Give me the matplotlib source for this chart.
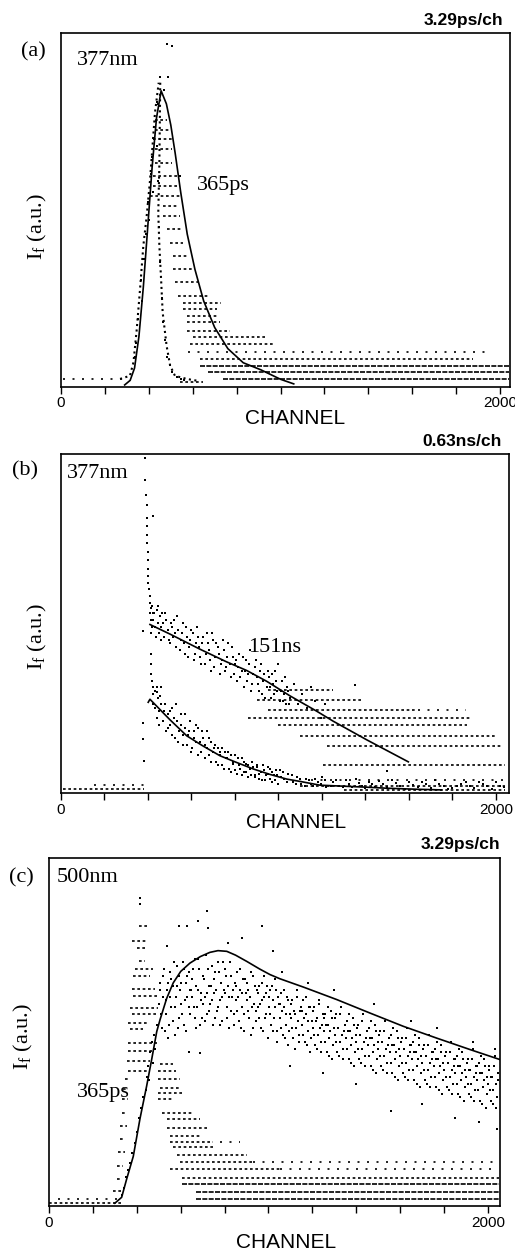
"""Fluorescence decay curves: three stacked panels (a), (b), (c)."""

import matplotlib

matplotlib.use("Agg")
import matplotlib.pyplot as plt  # noqa: E402

plt.rcParams["font.family"] = "Liberation Serif"
plt.rcParams["mathtext.fontset"] = "custom"
plt.rcParams["mathtext.rm"] = "Liberation Serif"
plt.rcParams["mathtext.it"] = "Liberation Serif:italic"

W, H = 515, 1251
SANS = "Liberation Sans"

# ---------------- panel (a): 377 nm, 3.29 ps/ch ----------------
fit_a_x = [290, 315, 335, 355, 375, 395, 415, 435, 456, 480, 500, 520, 545, 575,
           610, 650, 700, 760, 830, 910, 1000, 1060]
fit_a_y = [0.2, 1.5, 5, 14, 28, 45, 62, 76, 83.7, 80, 74, 66, 55, 43,
           33, 24, 16.5, 10.5, 6.5, 4.5, 1.8, 0.5]

irf_a_left_x = [269, 314, 330, 345, 360, 375, 390, 405, 428, 445]
irf_a_left_y = [1.9, 2.8, 6.6, 16, 27.4, 39.7, 48, 58, 77.5, 86]
irf_a_right_x = [452, 448, 443, 448, 456, 463, 481, 497, 519, 573, 620]
irf_a_right_y = [86, 63, 49, 39.7, 30, 20.8, 11.3, 5.7, 2.8, 1.9, 1.4]

pts_a = [(483, 97), (505, 96.5), (451, 87.5), (488, 87.5), (542, 59.5), (436, 80.5),
         (470, 84), (335, 8), (342, 12), (352, 19), (365, 30), (368, 24), (380, 36),
         (385, 43), (395, 52), (400, 47), (410, 60), (415, 65), (420, 55), (425, 70),
         (432, 75), (438, 68), (444, 80), (440, 58), (446, 45), (452, 35), (458, 25),
         (466, 18), (472, 13), (485, 8), (495, 6), (505, 4), (530, 2.5), (545, 2),
         (560, 1.5)]

rows_a_y = [75.5, 72.7, 69.9, 67.1, 63.3, 59.5, 56.7, 53.8, 51.0, 48.2, 44.4, 40.6,
            36.8, 33.0, 29.3, 25.5, 23.4, 21.7, 19.8, 18.0, 15.6, 13.7, 11.8, 9.6,
            7.6, 5.7, 3.8, 1.9, 1.9, 1.1]
rows_a_x0 = [428, 428, 421, 428, 428, 421, 421, 406, 466, 466, 482, 497,
             512, 512, 519, 535, 557, 557, 572, 572, 572, 602, 587, 580,
             633, 633, 670, 740, 10, 542]
rows_a_x1 = [482, 497, 504, 504, 504, 535, 527, 542, 535, 542, 550, 557,
             573, 595, 633, 680, 730, 709, 715, 724, 770, 937, 967, 1950,
             1878, 2040, 2040, 2040, 300, 648]
rows_a_kind = ["m"] * 23 + ["s", "m", "d", "d", "d", "s", "m"]

# ---------------- panel (b): 377 nm, 0.63 ns/ch ----------------
fit_b1_x = [409, 500, 639, 760, 854, 946, 1053, 1175, 1252, 1406, 1500, 1597]
fit_b1_y = [49.6, 46.8, 42.3, 38.6, 36, 32.8, 28.5, 24, 21, 15.5, 12.3, 9]

fit_b2_x = [401, 409, 500, 578, 650, 731, 800, 884, 960, 1038, 1100, 1191,
            1300, 1406, 1500, 1635, 1750]
fit_b2_y = [26.6, 27.5, 21.5, 16.7, 13.8, 10.8, 9.0, 6.9, 5.3, 3.9, 3.2, 2.1,
            1.8, 1.5, 1.2, 0.9, 0.7]

spike_b_x = [386, 386, 390, 394, 397, 397, 397, 397, 398, 398, 399, 400, 402, 404,
             407, 409, 416, 424, 424, 378, 378, 378, 380, 414, 412, 414, 418, 425,
             440, 455]
spike_b_y = [98.8, 92.4, 88, 85, 81, 78.6, 76, 73.7, 71, 68.8, 66, 63.9, 62, 60,
             58, 56, 54.5, 53.1, 81.6, 47.7, 20.6, 15.7, 9.3, 41, 38, 35, 33, 31,
             29.5, 28.5]

up_b_x = [410, 415, 420, 425, 430, 440, 445, 450, 455, 460, 470, 480, 490, 500,
          505, 515, 520, 530, 540, 550, 560, 570, 580, 590, 600, 610, 620, 630,
          640, 650, 660, 670, 680, 690, 700, 710, 720, 730, 740, 750, 760, 770,
          780, 790, 800, 810, 820, 830, 840, 850, 860, 870, 880, 890, 900, 910,
          920, 930, 940, 950, 960, 970, 980, 990, 1000, 1010, 1020, 1030, 1040,
          1050, 1352, 1497]
up_b_y = [53, 47, 55, 51, 49, 54, 50, 47, 52, 45, 50, 53, 48, 44,
          50, 46, 51, 43, 48, 45, 50, 41, 46, 43, 48, 39, 44, 46,
          40, 44, 38, 47, 42, 36, 45, 40, 43, 35, 39, 42, 37, 44,
          34, 40, 38, 33, 41, 36, 31, 39, 35, 42, 32, 37, 34, 30,
          38, 33, 28, 36, 31, 35, 29, 33, 38, 30, 27, 34, 31,
          26, 31.7, 6.4]
up_b2 = [(412, 51), (418, 49), (428, 53), (435, 46), (448, 55), (458, 49), (465, 53),
         (475, 46), (485, 51), (495, 45), (510, 49), (525, 47), (535, 52), (545, 42),
         (555, 47), (565, 44), (575, 49), (585, 40), (595, 45), (605, 47), (615, 41),
         (625, 49), (635, 43), (645, 38), (655, 46), (665, 41), (675, 44), (685, 39),
         (695, 47), (705, 37), (715, 44), (725, 41), (735, 38), (745, 45), (755, 36),
         (765, 40), (775, 38), (785, 43), (795, 35), (805, 39), (815, 37), (825, 34),
         (835, 40), (845, 36), (855, 33), (865, 38), (875, 30), (885, 35), (895, 39),
         (905, 32), (915, 36), (925, 29), (935, 35), (945, 31), (955, 34), (965, 28),
         (975, 32), (985, 36), (995, 30), (1005, 27), (1015, 33), (1025, 29),
         (1035, 26), (1045, 30), (1055, 28), (1070, 32), (1090, 26), (1110, 29),
         (1130, 25), (1150, 31), (1170, 27), (1195, 22), (1215, 26)]

lo_b_x = [420, 425, 430, 440, 445, 450, 460, 470, 480, 490, 500, 510, 520, 530,
          540, 550, 560, 570, 580, 590, 600, 610, 620, 630, 640, 650, 660, 670,
          680, 690, 700, 710, 720, 730, 740, 750, 760, 770, 780, 790, 800, 810,
          820, 830, 840, 850, 860, 870, 880, 890, 900, 910, 920, 930, 940, 950,
          960, 970, 980, 990, 1000, 1010, 1020, 1040, 1060, 1080, 1100, 1120,
          1140, 1160, 1180, 1200, 1220, 1250, 1280, 1310, 1340, 1370, 1400, 1430,
          1460, 1500, 1540, 1580, 1620, 1660, 1700, 1740, 1780, 1820, 1860, 1900,
          1940, 1980, 2020]
lo_b_y = [33, 26, 30, 22, 28, 24, 31, 21, 26, 19, 24, 17, 22, 26,
          15, 20, 17, 23, 14, 18, 12, 16, 20, 11, 15, 18, 10, 13,
          16, 9, 12, 14, 8, 11, 13, 7, 10, 12, 6, 9, 11, 5.5,
          8, 10, 6, 8.5, 4.5, 7, 9, 5, 7.5, 4, 6, 8, 3.5, 5.5,
          7, 3, 5, 6.5, 2.5, 4.5, 6, 3, 5, 2.5, 4, 2,
          3.5, 1.8, 3, 4.5, 1.5, 3, 2, 3.5, 1.5, 2.8, 1.2, 2.5,
          3.2, 1.5, 2.8, 1, 2.2, 3, 1.3, 2.5, 1, 2, 3, 1.2,
          2.4, 1, 2]
lo_b2 = [(422, 29), (432, 25), (442, 31), (452, 20), (462, 26), (472, 24), (482, 18),
         (492, 23), (502, 20), (512, 25), (522, 16), (532, 21), (542, 18), (552, 23),
         (562, 14), (572, 19), (582, 17), (592, 21), (602, 13), (612, 18), (622, 15),
         (632, 19), (642, 12), (652, 16), (662, 14), (672, 18), (682, 11), (692, 15),
         (702, 13), (712, 9), (722, 13), (732, 12), (742, 8), (752, 12), (762, 10),
         (772, 7), (782, 11), (792, 8.5), (802, 6.5), (812, 10), (822, 7), (832, 5),
         (842, 9), (852, 6), (862, 8), (872, 5), (882, 7.5), (892, 4.5), (902, 8),
         (912, 5.5), (922, 3.5), (932, 6.5), (942, 5), (952, 7.5), (962, 4), (972, 6),
         (982, 3.5), (992, 5), (1005, 6.5), (1025, 4), (1045, 5.5), (1065, 3),
         (1085, 4.5), (1105, 2.5), (1125, 4), (1150, 2.5), (1170, 4), (1195, 2.5),
         (1215, 3.5), (1240, 2), (1265, 3.5), (1295, 1.5), (1325, 2.5), (1355, 4),
         (1385, 2), (1415, 3), (1445, 1.5), (1480, 2.5), (1520, 3.5), (1560, 2),
         (1600, 3), (1640, 1.5), (1680, 2.5), (1720, 3.5), (1760, 2), (1800, 1.2),
         (1840, 2.5), (1880, 1.8), (1920, 3), (1960, 2), (2000, 3), (2035, 1.5)]

rows_b_y = [30.3, 27.2, 24.3, 24.3, 22.1, 19.9, 16.7, 13.6, 8.1, 3.5, 2.0, 0.8, 1.0, 2.2]
rows_b_x0 = [950, 900, 950, 1640, 860, 1000, 1099, 1222, 1206, 1150, 1100, 1300, 10, 150]
rows_b_x1 = [1252, 1390, 1636, 1860, 1881, 1866, 2002, 2032, 2040, 2040, 2040, 2040, 380, 385]
rows_b_kind = ["m", "m", "m", "s", "m", "m", "m", "m", "m", "s", "m", "m", "m", "s"]

# ---------------- panel (c): 500 nm, 3.29 ps/ch ----------------
fit_c_x = [300, 331, 354, 384, 415, 445, 468, 491, 506, 536, 566, 600, 642, 690,
           733, 770, 810, 850, 901, 960, 1007, 1052, 1159, 1311, 1463, 1614,
           1766, 1918, 2055]
fit_c_y = [0.5, 2.2, 7.5, 14, 25, 34.3, 42, 50, 53.4, 59.5, 64, 67.3, 69.7, 71.6,
           72.8, 73.3, 73.1, 72, 70.2, 68, 66.4, 65.2, 62.8, 59.2, 55.3, 51.5,
           48.1, 44.8, 41.9]

rise_c_x = [331, 340, 350, 360, 370, 380, 390, 400, 410, 420, 430, 440, 445, 450,
            455, 460, 470, 475, 480, 485, 490, 415, 415]
rise_c_y = [3, 5, 8, 10, 12, 15, 18, 21, 25, 28, 31, 33, 37, 40,
            36, 44, 47, 41, 49, 45, 52, 88.5, 86.6]

cloud_c_x = [
    505, 512, 520, 527, 534, 541, 546, 553, 558, 566, 572, 579, 585, 592, 597,
    603, 610, 616, 623, 630, 637, 643, 648, 652, 659, 665, 672, 678, 684, 691, 697,
    703, 709, 716, 722, 728, 735, 741, 747, 752, 758, 765, 771, 777, 784, 790, 796,
    803, 809, 815, 822, 828, 834, 841, 847, 852, 858, 865, 871, 878, 884, 890, 897,
    903, 909, 916, 922, 928, 935, 941, 947, 952, 958, 965, 971, 978, 984, 990, 996,
    1003, 1009, 1016, 1022, 1028, 1035, 1041, 1047, 1052, 1058, 1065, 1071, 1078,
    1084, 1090, 1097, 1103, 1109, 1116, 1122, 1128, 1135, 1141, 1147, 1152, 1158,
    1165, 1171, 1178, 1184, 1190, 1197, 1203, 1209, 1216, 1222, 1228, 1235, 1241,
    1247, 1252, 1258, 1265, 1271, 1278, 1284, 1290, 1297, 1303, 1309, 1316, 1322,
    1328, 1335, 1341, 1347, 1352, 1358, 1365, 1371, 1378, 1384, 1390, 1397, 1403,
    1409, 1416, 1422, 1428, 1435, 1441, 1447, 1452, 1458, 1465, 1471, 1478, 1484,
    1490, 1497, 1503, 1509, 1516, 1522, 1528, 1535, 1541, 1547, 1552, 1558, 1565,
    1571, 1578, 1584, 1590, 1597, 1603, 1609, 1616, 1622, 1628, 1635, 1641, 1647,
    1652, 1658, 1665, 1671, 1678, 1684, 1690, 1697, 1703, 1709, 1716, 1722, 1728,
    1735, 1741, 1747, 1752, 1758, 1765, 1771, 1778, 1784, 1790, 1797, 1803, 1809,
    1816, 1822, 1828, 1835, 1841, 1847, 1852, 1858, 1865, 1871, 1878, 1884, 1890,
    1897, 1903, 1909, 1916, 1922, 1928, 1935, 1941, 1947, 1952, 1958, 1965, 1971,
    1978, 1984, 1990, 1997, 2003, 2009, 2016, 2022, 2028, 2035, 2041, 2047,
    594, 678, 718, 725, 627, 817, 880, 969, 1022, 536, 640, 688, 1560, 1700, 1850,
    1960, 2040, 1400, 1100, 1250, 1300, 1480, 1650, 1770, 1930, 2030, 1180, 1060]
cloud_c_y = [
    62, 55, 66, 50, 59, 64, 52, 67, 57, 63, 49, 60, 69, 54, 62,
    58, 70, 52, 64, 60, 67, 55, 62, 65, 57, 71, 51, 62, 68, 59, 54,
    66, 60, 72, 55, 63, 58, 69, 52, 61, 67, 56, 70, 59, 64, 53, 62,
    68, 57, 63, 51, 66, 60, 55, 64, 59, 67, 53, 62, 57, 65, 50, 61,
    64, 56, 60, 49, 66, 58, 53, 62, 57, 63, 51, 59, 66, 54, 61, 48,
    60, 55, 63, 50, 57, 62, 47, 58, 54, 61, 49, 57, 52,
    60, 46, 55, 58, 51, 56, 45, 60, 53, 49, 57, 52, 59,
    47, 55, 50, 57, 44, 53, 56, 49, 53, 45, 58, 51, 47,
    55, 50, 55, 44, 52, 48, 56, 42, 51, 54, 47, 51, 43,
    55, 49, 45, 52, 48, 53, 42, 50, 46, 54, 40, 49, 51,
    45, 49, 41, 53, 47, 43, 50, 46, 51, 40, 48, 44, 52,
    38, 47, 49, 43, 47, 39, 50, 45, 41, 48, 44, 49, 38,
    46, 42, 50, 36, 45, 47, 41, 45, 37, 48, 43, 39, 46,
    42, 47, 36, 44, 40, 48, 34, 43, 45, 39, 43, 35, 46,
    41, 37, 44, 40, 45, 34, 42, 38, 46, 32, 41, 43, 37,
    41, 33, 44, 39, 35, 42, 38, 43, 32, 40, 36, 44, 30,
    39, 41, 35, 39, 31, 42, 37, 33, 40, 36, 41, 30, 38,
    34, 42, 28, 37, 39, 33, 37, 29, 40, 35, 31, 38,
    80.4, 81.7, 84.6, 79.8, 80.3, 75.6, 77, 80.5, 73.2, 74.7, 44, 43.9, 27, 29, 25,
    24, 22, 35, 40, 38, 62, 58, 53, 51, 47, 45, 64, 67]
cloud_c2 = [
    (501, 58), (507, 64), (513, 51), (519, 60), (525, 68), (531, 55), (538, 62), (544, 48),
    (551, 60), (557, 65), (563, 53), (569, 70), (575, 57), (581, 63), (588, 51), (594, 66),
    (601, 64), (607, 55), (613, 68), (619, 59), (625, 50), (631, 66), (638, 57), (644, 62),
    (651, 60), (657, 68), (663, 54), (669, 63), (675, 57), (681, 71), (688, 52), (694, 61),
    (701, 58), (707, 65), (713, 53), (719, 61), (725, 68), (731, 56), (738, 63), (744, 59),
    (751, 65), (757, 54), (763, 62), (769, 57), (775, 67), (781, 52), (788, 60), (794, 70),
    (801, 61), (807, 66), (813, 54), (819, 60), (825, 70), (831, 56), (838, 62), (844, 52),
    (851, 63), (857, 56), (863, 60), (869, 68), (875, 51), (881, 61), (888, 55), (894, 65),
    (901, 59), (907, 62), (913, 54), (919, 67), (925, 57), (931, 51), (938, 63), (944, 56),
    (951, 61), (957, 54), (963, 58), (969, 64), (975, 50), (981, 60), (988, 55), (994, 63),
    (1001, 57), (1007, 62), (1013, 52), (1019, 59), (1025, 54), (1031, 65), (1038, 50),
    (1044, 60), (1051, 58), (1057, 51), (1063, 56), (1069, 62), (1075, 48), (1081, 55),
    (1088, 59), (1094, 50), (1101, 54), (1107, 59), (1113, 48), (1119, 55), (1125, 51),
    (1131, 62), (1138, 47), (1144, 56), (1151, 56), (1157, 49), (1163, 54), (1169, 60),
    (1175, 46), (1181, 53), (1188, 57), (1194, 48), (1201, 51), (1207, 57), (1213, 46),
    (1219, 54), (1225, 49), (1231, 59), (1238, 44), (1244, 52), (1251, 54), (1257, 47),
    (1263, 52), (1269, 57), (1275, 43), (1281, 50), (1288, 54), (1294, 46), (1301, 49),
    (1307, 55), (1313, 44), (1319, 51), (1325, 47), (1331, 57), (1338, 42), (1344, 50),
    (1351, 52), (1357, 45), (1363, 50), (1369, 55), (1375, 41), (1381, 48), (1388, 52),
    (1394, 44), (1401, 47), (1407, 52), (1413, 42), (1419, 49), (1425, 45), (1431, 55),
    (1438, 40), (1444, 48), (1451, 50), (1457, 43), (1463, 48), (1469, 53), (1475, 39),
    (1481, 46), (1488, 50), (1494, 42), (1501, 45), (1507, 50), (1513, 40), (1519, 47),
    (1525, 43), (1531, 53), (1538, 38), (1544, 46), (1551, 48), (1557, 41), (1563, 46),
    (1569, 51), (1575, 37), (1581, 44), (1588, 48), (1594, 40), (1601, 43), (1607, 48),
    (1613, 38), (1619, 45), (1625, 41), (1631, 51), (1638, 36), (1644, 44), (1651, 46),
    (1657, 39), (1663, 44), (1669, 49), (1675, 35), (1681, 42), (1688, 46), (1694, 38),
    (1701, 41), (1707, 46), (1713, 36), (1719, 43), (1725, 39), (1731, 49), (1738, 34),
    (1744, 42), (1751, 44), (1757, 37), (1763, 42), (1769, 47), (1775, 33), (1781, 40),
    (1788, 44), (1794, 36), (1801, 39), (1807, 44), (1813, 34), (1819, 41), (1825, 37),
    (1831, 47), (1838, 32), (1844, 40), (1851, 42), (1857, 35), (1863, 40), (1869, 45),
    (1875, 31), (1881, 38), (1888, 42), (1894, 34), (1901, 37), (1907, 42), (1913, 32),
    (1919, 39), (1925, 35), (1931, 45), (1938, 30), (1944, 38), (1951, 40), (1957, 33),
    (1963, 38), (1969, 43), (1975, 29), (1981, 36), (1988, 40), (1994, 32), (2001, 35),
    (2007, 40), (2013, 30), (2019, 37), (2025, 33), (2031, 43), (2038, 28), (2044, 36)]

rows_c_y = [80.3, 76.1, 74.0, 70.2, 68.0, 65.9, 62.1, 60.1, 56.8, 54.9, 52.5, 50.6,
            46.7, 44.3, 41.5, 38.6, 36.2, 33.3, 30.5, 26.6, 22.8, 19.0, 15.2, 11.3,
            7.5, 4.1,
            40.5, 38.6, 36.2, 33.8, 32.4, 30.5, 26.6, 24.7, 22.3, 19.9, 18.1, 18.1,
            16.6, 14.4, 12.4, 12.4, 10.3, 10.3, 7.9, 6.0, 3.8, 1.7, 0.6, 1.6]
rows_c_x0 = [408, 377, 400, 408, 392, 384, 377, 384, 369, 377, 361, 369,
             361, 361, 354, 361, 346, 339, 331, 331, 323, 323, 316, 308,
             308, 293,
             506, 498, 498, 506, 498, 498, 514, 536, 536, 551, 551, 780,
             567, 583, 597, 931, 551, 1052, 605, 605, 672, 672, 0, 40]
rows_c_x1 = [445, 445, 445, 438, 475, 460, 483, 498, 498, 490, 445, 430,
             490, 468, 460, 445, 361, 354, 361, 354, 354, 346, 346, 339,
             331, 339,
             567, 580, 597, 597, 612, 567, 658, 688, 719, 688, 749, 870,
             749, 900, 931, 2040, 1052, 2025, 2050, 2050, 2050, 2050, 330, 320]
rows_c_kind = ["m"] * 26 + ["m"] * 11 + ["s", "m", "m", "m", "s", "m", "s",
                                         "m", "d", "d", "d", "m", "s"]

DASH = {"d": (0, (3.0, 0.8)), "m": (0, (1.6, 1.6)), "s": (0, (1.2, 4.5))}


def fx(px):
    return px / W


def fy(py):
    return 1 - py / H


def draw_rows(ax, levels, x0, x1, kinds):
    for y, a, b, k in zip(levels, x0, x1, kinds):
        ax.hlines(y, a, b, colors="k", linewidth=1.2, linestyles=[DASH[k]])


def style_axes(ax, xmax):
    ax.set_xlim(0, xmax)
    ax.set_ylim(-0.3, 100)
    ax.set_yticks([])
    ax.set_xticks(range(0, 2001, 200))
    ax.set_xticklabels(["0"] + [""] * 9 + ["2000"], family=SANS, fontsize=11)
    ax.tick_params(axis="x", direction="out", length=5, width=1, pad=2)
    for s in ax.spines.values():
        s.set_linewidth(1.2)


def dots(ax, x, y):
    ax.scatter(x, y, s=4, marker="s", c="k", linewidths=0)


fig = plt.figure(figsize=(W / 100, H / 100), dpi=100)

# panel (a)
ax_a = fig.add_axes([fx(61), fy(386.7), fx(449), 353.3 / H])
style_axes(ax_a, 2045)
draw_rows(ax_a, rows_a_y, rows_a_x0, rows_a_x1, rows_a_kind)
ax_a.plot(irf_a_left_x, irf_a_left_y, ls=":", color="k", lw=1.5)
ax_a.plot(irf_a_right_x, irf_a_right_y, ls=":", color="k", lw=1.5)
dots(ax_a, *zip(*pts_a))
ax_a.plot(fit_a_x, fit_a_y, color="k", lw=1.2)

# panel (b)
ax_b = fig.add_axes([fx(61), fy(793.3), fx(448), 339.3 / H])
style_axes(ax_b, 2060)
draw_rows(ax_b, rows_b_y, rows_b_x0, rows_b_x1, rows_b_kind)
dots(ax_b, spike_b_x, spike_b_y)
dots(ax_b, up_b_x, up_b_y)
dots(ax_b, *zip(*up_b2))
dots(ax_b, lo_b_x, lo_b_y)
dots(ax_b, *zip(*lo_b2))
ax_b.plot(fit_b1_x, fit_b1_y, color="k", lw=1.2)
ax_b.plot(fit_b2_x, fit_b2_y, color="k", lw=1.2)

# panel (c)
ax_c = fig.add_axes([fx(49), fy(1206), fx(451), 348 / H])
style_axes(ax_c, 2055)
draw_rows(ax_c, rows_c_y, rows_c_x0, rows_c_x1, rows_c_kind)
dots(ax_c, rise_c_x, rise_c_y)
dots(ax_c, cloud_c_x, cloud_c_y)
dots(ax_c, *zip(*cloud_c2))
ax_c.plot(fit_c_x, fit_c_y, color="k", lw=1.2)

# text
serif = dict(fontsize=16)
ylab = "I$_\\mathrm{f}$ (a.u.)"
for lab, (lx, ly) in [("(a)", (33, 52)), ("(b)", (25, 471)), ("(c)", (21, 878))]:
    fig.text(fx(lx), fy(ly), lab, ha="center", va="center", **serif)
for lab, (lx, ly) in [("377nm", (77, 65)), ("377nm", (67, 478)), ("500nm", (57, 882)),
                      ("365ps", (197, 190)), ("151ns", (248, 652)), ("365ps", (77, 1097))]:
    fig.text(fx(lx), fy(ly), lab, ha="left", va="baseline", **serif)
for lx, ly in [(37, 227), (37, 637), (23, 1037)]:
    fig.text(fx(lx), fy(ly), ylab, ha="center", va="center", rotation=90, **serif)
for lab, (lx, ly) in [("3.29ps/ch", (503, 21)), ("0.63ns/ch", (502, 442)),
                      ("3.29ps/ch", (500, 844))]:
    fig.text(fx(lx), fy(ly), lab, ha="right", va="center", family=SANS,
             fontsize=12.5, fontweight="bold")
for lx, ly in [(295, 418), (296, 823), (286, 1242)]:
    fig.text(fx(lx), fy(ly), "CHANNEL", ha="center", va="center", family=SANS, fontsize=15)

fig.savefig("out.png", dpi=100)
plt.close(fig)
